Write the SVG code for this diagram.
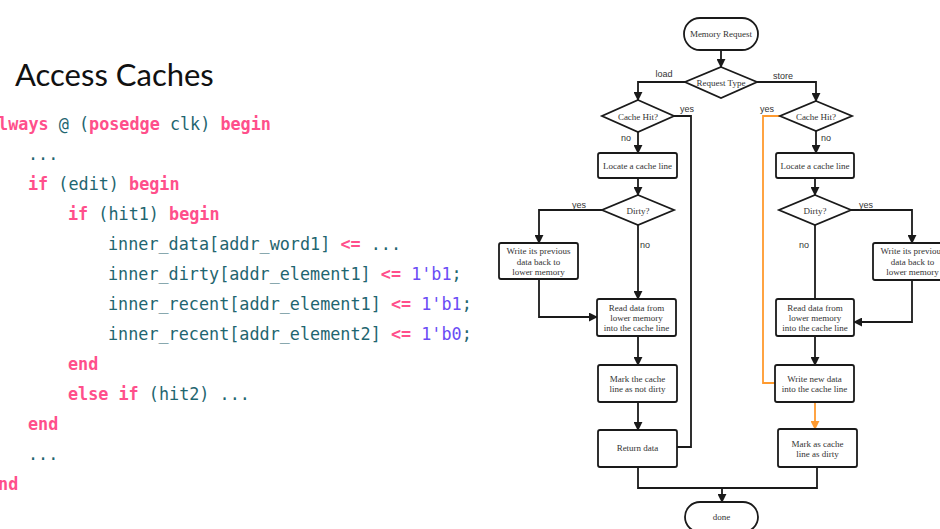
<svg xmlns="http://www.w3.org/2000/svg" width="940" height="529" viewBox="0 0 940 529">
  <style>
    .title { font-family: Lato, "Liberation Sans", sans-serif; font-size: 31px; fill: #111; }
    .code { font-family: "DejaVu Sans Mono", "Liberation Mono", monospace; font-size: 16.8px; fill: #1f6670; }
    .kw { fill: #ff4f8b; font-weight: bold; }
    .num { fill: #6a4cf5; }
    .shape { fill: #fff; stroke: #1a1a1a; stroke-width: 1.8; }
    .nt { font-family: "Liberation Serif", "Times New Roman", serif; font-size: 9px; fill: #333; text-anchor: middle; }
    .lbl { font-family: "Liberation Sans", Arial, sans-serif; font-size: 9px; fill: #333; text-anchor: middle; }
    .edge { fill: none; stroke: #1a1a1a; stroke-width: 1.8; }
    .hot { fill: none; stroke: #ff9a2e; stroke-width: 1.8; }
  </style>
  <defs>
    <marker id="arrow" viewBox="0 0 10 10" refX="9" refY="5" markerWidth="9" markerHeight="9" markerUnits="userSpaceOnUse" orient="auto">
      <path d="M0,0 L10,5 L0,10 z" fill="#1a1a1a"/>
    </marker>
    <marker id="arrowHot" viewBox="0 0 10 10" refX="9" refY="5" markerWidth="9" markerHeight="9" markerUnits="userSpaceOnUse" orient="auto">
      <path d="M0,0 L10,5 L0,10 z" fill="#ff9a2e"/>
    </marker>
  </defs>

  <rect width="940" height="529" fill="#fff"/>

  <text class="title" x="15" y="86">Access Caches</text>

  <!-- Verilog excerpt -->
  <g id="code" class="code" xml:space="preserve">
    <text x="-12" y="130"><tspan class="kw">always</tspan> @ (<tspan class="kw">posedge</tspan> clk) <tspan class="kw">begin</tspan></text>
    <text x="28" y="160">...</text>
    <text x="28" y="190"><tspan class="kw">if</tspan> (edit) <tspan class="kw">begin</tspan></text>
    <text x="68" y="220"><tspan class="kw">if</tspan> (hit1) <tspan class="kw">begin</tspan></text>
    <text x="108" y="250">inner_data[addr_word1] <tspan class="kw">&lt;=</tspan> ...</text>
    <text x="108" y="280">inner_dirty[addr_element1] <tspan class="kw">&lt;=</tspan> <tspan class="num">1'b1</tspan>;</text>
    <text x="108" y="310">inner_recent[addr_element1] <tspan class="kw">&lt;=</tspan> <tspan class="num">1'b1</tspan>;</text>
    <text x="108" y="340">inner_recent[addr_element2] <tspan class="kw">&lt;=</tspan> <tspan class="num">1'b0</tspan>;</text>
    <text x="68" y="370"><tspan class="kw">end</tspan></text>
    <text x="68" y="400"><tspan class="kw">else if</tspan> (hit2) ...</text>
    <text x="28" y="430"><tspan class="kw">end</tspan></text>
    <text x="28" y="460">...</text>
    <text x="-12" y="490"><tspan class="kw">end</tspan></text>
  </g>

  <!-- Connectors -->
  <g id="connectors">
    <path class="edge" d="M721,50 V67" marker-end="url(#arrow)"/>
    <path class="edge" d="M685,82 H638 V100" marker-end="url(#arrow)"/>
    <path class="edge" d="M757,82 H816 V101" marker-end="url(#arrow)"/>
    <path class="edge" d="M674,116 H691 V447 H677"/>
    <path class="edge" d="M638,132 V153" marker-end="url(#arrow)"/>
    <path class="edge" d="M638,178 V195" marker-end="url(#arrow)"/>
    <path class="edge" d="M602,210 H539 V243" marker-end="url(#arrow)"/>
    <path class="edge" d="M638,225 V299" marker-end="url(#arrow)"/>
    <path class="edge" d="M539,279 V317 H597" marker-end="url(#arrow)"/>
    <path class="edge" d="M638,336 V365" marker-end="url(#arrow)"/>
    <path class="edge" d="M638,402 V430" marker-end="url(#arrow)"/>
    <path class="edge" d="M638,467 V488 H817 V467"/>
    <path class="edge" d="M722,488 V502" marker-end="url(#arrow)"/>
    <path class="hot" d="M780,116 H763 V383 H775"/>
    <path class="edge" d="M816,131 V153" marker-end="url(#arrow)"/>
    <path class="edge" d="M815,178 V195" marker-end="url(#arrow)"/>
    <path class="edge" d="M851,210 H912 V243" marker-end="url(#arrow)"/>
    <path class="edge" d="M815,225 V299"/>
    <path class="edge" d="M912,280 V322 H854" marker-end="url(#arrow)"/>
    <path class="edge" d="M815,336 V365" marker-end="url(#arrow)"/>
    <path class="hot" d="M815,402 V429" marker-end="url(#arrowHot)"/>

    <text class="lbl" x="664" y="77">load</text>
    <text class="lbl" x="783" y="79">store</text>
    <text class="lbl" x="687" y="112">yes</text>
    <text class="lbl" x="626" y="141">no</text>
    <text class="lbl" x="767" y="112">yes</text>
    <text class="lbl" x="826" y="141">no</text>
    <text class="lbl" x="579" y="208">yes</text>
    <text class="lbl" x="645" y="248">no</text>
    <text class="lbl" x="866" y="208">yes</text>
    <text class="lbl" x="804" y="248">no</text>
  </g>

  <!-- Nodes -->
  <g id="memory-request">
    <rect class="shape" x="684" y="18" width="74" height="32" rx="16"/>
    <text class="nt" x="721" y="37">Memory Request</text>
  </g>
  <g id="request-type">
    <polygon class="shape" points="721,67 757,82 721,98 685,82"/>
    <text class="nt" x="721" y="85.5">Request Type</text>
  </g>

  <g id="load-hit">
    <polygon class="shape" points="638,100 674,116 638,132 602,116"/>
    <text class="nt" x="638" y="119.5">Cache Hit?</text>
  </g>
  <g id="load-locate">
    <rect class="shape" x="598" y="153" width="79" height="25" rx="2"/>
    <text class="nt" x="637.5" y="169">Locate a cache line</text>
  </g>
  <g id="load-dirty">
    <polygon class="shape" points="638,195 674,210 638,225 602,210"/>
    <text class="nt" x="638" y="213.5">Dirty?</text>
  </g>
  <g id="load-writeback">
    <rect class="shape" x="499" y="243" width="79" height="36" rx="2"/>
    <text class="nt" x="538.5" y="254">Write its previous</text>
    <text class="nt" x="538.5" y="264.5">data back to</text>
    <text class="nt" x="538.5" y="275">lower memory</text>
  </g>
  <g id="load-read">
    <rect class="shape" x="597" y="299" width="79" height="37" rx="2"/>
    <text class="nt" x="636.5" y="311">Read data from</text>
    <text class="nt" x="636.5" y="321">lower memory</text>
    <text class="nt" x="636.5" y="331">into the cache line</text>
  </g>
  <g id="load-mark">
    <rect class="shape" x="598" y="365" width="79" height="37" rx="2"/>
    <text class="nt" x="637.5" y="381.5">Mark the cache</text>
    <text class="nt" x="637.5" y="391.5">line as not dirty</text>
  </g>
  <g id="load-return">
    <rect class="shape" x="598" y="430" width="79" height="37" rx="2"/>
    <text class="nt" x="637.5" y="451">Return data</text>
  </g>

  <g id="store-hit">
    <polygon class="shape" points="816,101 852,116 816,131 780,116"/>
    <text class="nt" x="816" y="119.5">Cache Hit?</text>
  </g>
  <g id="store-locate">
    <rect class="shape" x="776" y="153" width="78" height="25" rx="2"/>
    <text class="nt" x="815" y="169">Locate a cache line</text>
  </g>
  <g id="store-dirty">
    <polygon class="shape" points="815,195 851,210 815,225 779,210"/>
    <text class="nt" x="815" y="213.5">Dirty?</text>
  </g>
  <g id="store-writeback">
    <rect class="shape" x="873" y="243" width="79" height="37" rx="2"/>
    <text class="nt" x="912.5" y="254">Write its previous</text>
    <text class="nt" x="912.5" y="264.5">data back to</text>
    <text class="nt" x="912.5" y="275">lower memory</text>
  </g>
  <g id="store-read">
    <rect class="shape" x="776" y="299" width="78" height="37" rx="2"/>
    <text class="nt" x="815" y="311">Read data from</text>
    <text class="nt" x="815" y="321">lower memory</text>
    <text class="nt" x="815" y="331">into the cache line</text>
  </g>
  <g id="store-write">
    <rect class="shape" x="775" y="365" width="79" height="37" rx="2"/>
    <text class="nt" x="814.5" y="381.5">Write new data</text>
    <text class="nt" x="814.5" y="391.5">into the cache line</text>
  </g>
  <g id="store-mark">
    <rect class="shape" x="778" y="429" width="79" height="38" rx="2"/>
    <text class="nt" x="817.5" y="446.5">Mark as cache</text>
    <text class="nt" x="817.5" y="456.5">line as dirty</text>
  </g>

  <g id="done">
    <rect class="shape" x="685" y="502" width="73" height="30" rx="15"/>
    <text class="nt" x="721.5" y="520">done</text>
  </g>
</svg>
